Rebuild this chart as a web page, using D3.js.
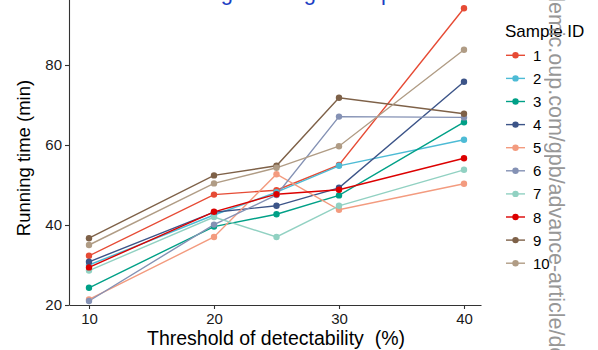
<!DOCTYPE html>
<html><head><meta charset="utf-8">
<script src="https://cdn.jsdelivr.net/npm/d3@7"></script>
<style>body{margin:0;background:#fff}svg{display:block;font-family:"Liberation Sans",Arial,sans-serif}</style>
</head><body><svg id="c" width="598" height="350"></svg>
<script>
const thresholds = [10, 20, 25, 30, 40];
const sampleIds = ["1","2","3","4","5","6","7","8","9","10"];
const s1 = [32.3, 47.6, 48.7, 55.0, 94.2];
const s2 = [30.0, 42.5, 48.2, 54.8, 61.3];
const s3 = [24.3, 39.6, 42.7, 47.4, 65.7];
const s4 = [30.8, 43.2, 44.8, 49.3, 75.8];
const s5 = [21.4, 37.0, 52.7, 43.8, 50.3];
const s6 = [21.0, 40.1, 47.5, 67.1, 66.9];
const s7 = [28.6, 42.0, 37.0, 44.8, 53.8];
const s8 = [29.4, 43.3, 47.7, 48.8, 56.7];
const s9 = [36.7, 52.4, 54.8, 71.8, 67.8];
const s10 = [35.0, 50.4, 54.3, 59.7, 83.8];
const seriesValues = [s1,s2,s3,s4,s5,s6,s7,s8,s9,s10];
const colors = ["#E64B35","#4DBBD5","#00A087","#3C5488","#F39B7F","#8491B4","#91D1C2","#DC0000","#7E6148","#B09C85"];
const yTicks = [20, 40, 60, 80];
const xTicks = [10, 20, 30, 40];
const titleWords = ["Running", "using", "pooled"];

const svg = d3.select("#c");
const x = d3.scaleLinear().domain([8.4, 41.36]).range([69, 481]);
const y = d3.scaleLinear().domain([20, 100]).range([305, -15]);

// cropped blue title (only descenders visible)
const tw = [{x:233, a:"end"}, {x:316, a:"end"}, {x:381, a:"start"}];
titleWords.forEach((w, i) => {
  svg.append("text").attr("x", tw[i].x).attr("y", 0).attr("text-anchor", tw[i].a)
    .attr("fill","#1d3fc4").attr("font-size", 22).text(w);
});

// axes
const xa = svg.append("g").attr("transform","translate(0,305)")
  .call(d3.axisBottom(x).tickValues(xTicks).tickSize(4).tickPadding(4).tickSizeOuter(0));
const ya = svg.append("g").attr("transform","translate(69,0)")
  .call(d3.axisLeft(y).tickValues(yTicks).tickSize(4).tickPadding(3).tickSizeOuter(0));
[xa, ya].forEach(a => {
  a.select(".domain").attr("stroke","#333").attr("stroke-width",1.1);
  a.selectAll(".tick line").attr("stroke","#333").attr("stroke-width",1.1);
  a.selectAll(".tick text").attr("fill","#1a1a1a").attr("font-size",15).attr("font-family","Liberation Sans, Arial, sans-serif");
});

svg.append("text").attr("x", 276).attr("y", 345).attr("text-anchor","middle")
  .attr("font-size", 19.5).attr("fill","#000").attr("xml:space","preserve").text("Threshold of detectability  (%)");
svg.append("text").attr("transform","translate(30,158) rotate(-90)").attr("text-anchor","middle")
  .attr("font-size", 18.5).attr("fill","#000").text("Running time (min)");

const line = d3.line().x((d,i) => x(thresholds[i])).y(d => y(d));
seriesValues.forEach((vals, k) => {
  svg.append("path").attr("d", line(vals)).attr("fill","none")
    .attr("stroke", colors[k]).attr("stroke-width", 1.4);
});
seriesValues.forEach((vals, k) => {
  svg.selectAll(null).data(vals).enter().append("circle")
    .attr("cx",(d,i)=>x(thresholds[i])).attr("cy",d=>y(d)).attr("r",3.2).attr("fill",colors[k]);
});

// legend
svg.append("text").attr("x", 505).attr("y", 37).attr("font-size", 17).attr("fill","#000").text("Sample ID");
const lg = svg.selectAll(".lg").data(sampleIds).enter().append("g")
  .attr("transform",(d,i)=>`translate(0,${55.3 + i*23.1})`);
lg.append("line").attr("x1",506).attr("x2",525).attr("stroke",(d,i)=>colors[i]).attr("stroke-width",1.4);
lg.append("circle").attr("cx",515.5).attr("r",3.2).attr("fill",(d,i)=>colors[i]);
lg.append("text").attr("x",533).attr("y",5.5).attr("font-size",15).attr("fill","#000").text(d=>d);

// watermark
svg.append("text").attr("transform","translate(549,-10) rotate(90)")
  .attr("font-size", 21.5).attr("fill","#8c8c8c").attr("opacity",0.9)
  .text("demic.oup.com/gpb/advance-article/doi");
</script></body></html>
